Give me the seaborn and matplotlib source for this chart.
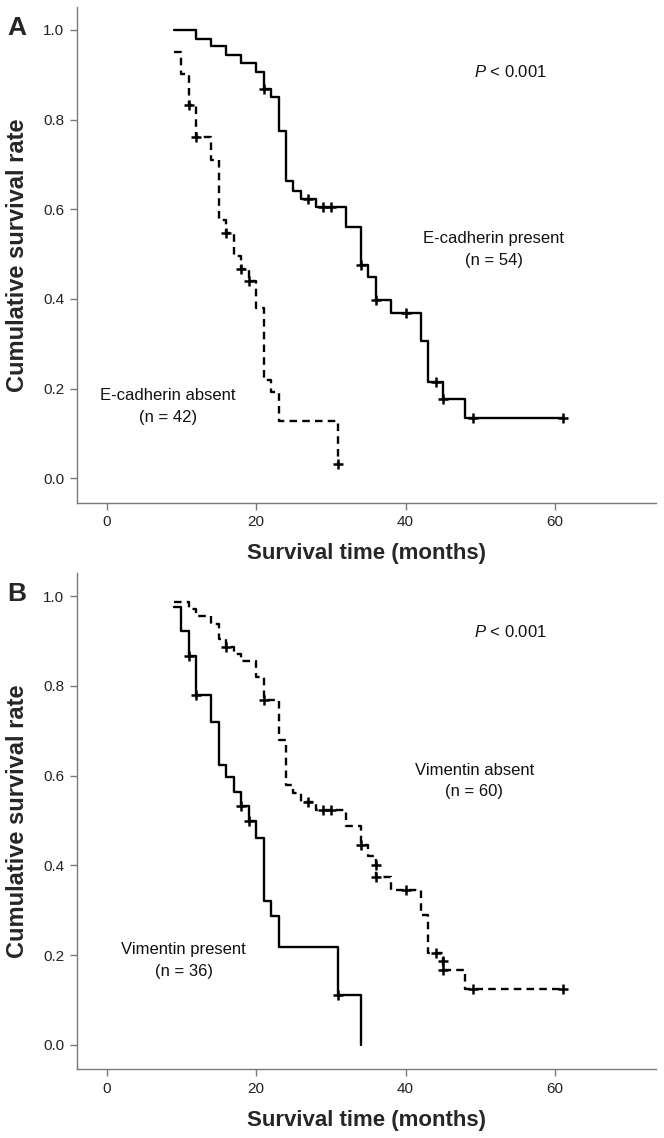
import matplotlib
matplotlib.use("Agg")
import matplotlib.pyplot as plt
import seaborn as sb

# Panel A: E-cadherin
ecad_pres_t = [9, 12, 14, 16, 18, 20, 21, 22, 23, 24, 25, 26, 28, 32, 34, 35, 36, 38, 42, 43, 45, 48, 61]
ecad_pres_s = [1.0, 0.979, 0.964, 0.944, 0.927, 0.907, 0.868, 0.850, 0.775, 0.662, 0.641, 0.622, 0.605,
               0.560, 0.476, 0.448, 0.398, 0.368, 0.307, 0.214, 0.178, 0.135, 0.135]
ecad_pres_cens_t = [21, 27, 29, 30, 34, 36, 40, 44, 45, 49, 61]
ecad_pres_cens_s = [0.868, 0.622, 0.605, 0.605, 0.476, 0.398, 0.368, 0.214, 0.178, 0.135, 0.135]

ecad_abs_t = [9, 10, 11, 12, 14, 15, 16, 17, 18, 19, 20, 21, 22, 23, 31]
ecad_abs_s = [0.951, 0.902, 0.833, 0.760, 0.710, 0.576, 0.548, 0.496, 0.466, 0.440, 0.379, 0.219, 0.193,
              0.128, 0.032]
ecad_abs_cens_t = [11, 12, 16, 18, 19, 31]
ecad_abs_cens_s = [0.833, 0.760, 0.548, 0.466, 0.440, 0.032]

# Panel B: Vimentin
vim_pres_t = [9, 10, 11, 12, 14, 15, 16, 17, 18, 19, 20, 21, 22, 23, 31, 34]
vim_pres_s = [0.975, 0.922, 0.866, 0.779, 0.719, 0.624, 0.596, 0.563, 0.532, 0.499, 0.462, 0.321, 0.288,
              0.217, 0.110, 0.0]
vim_pres_cens_t = [11, 12, 18, 19, 31]
vim_pres_cens_s = [0.866, 0.779, 0.532, 0.499, 0.110]

vim_abs_t = [9, 11, 12, 14, 15, 16, 17, 18, 20, 21, 23, 24, 25, 26, 28, 32, 34, 35, 36, 38, 42, 43, 45, 48, 61]
vim_abs_s = [0.987, 0.972, 0.955, 0.938, 0.905, 0.886, 0.871, 0.855, 0.819, 0.769, 0.680, 0.580, 0.561,
             0.541, 0.524, 0.487, 0.445, 0.420, 0.373, 0.346, 0.290, 0.204, 0.167, 0.125, 0.125]
vim_abs_cens_t = [16, 21, 27, 29, 30, 34, 36, 36, 40, 44, 45, 45, 49, 61]
vim_abs_cens_s = [0.886, 0.769, 0.541, 0.524, 0.524, 0.445, 0.401, 0.373, 0.346, 0.204, 0.186, 0.167,
                  0.125, 0.125]

x_ticks = [0, 20, 40, 60]
y_ticks = [0.0, 0.2, 0.4, 0.6, 0.8, 1.0]

sb.set_style("white")
plt.rcParams["font.family"] = ["Liberation Sans", "DejaVu Sans"]
plt.rcParams["mathtext.fontset"] = "custom"
plt.rcParams["mathtext.it"] = "Liberation Sans:italic"
plt.rcParams["mathtext.rm"] = "Liberation Sans"

GREY = "#7a7a7a"
SOLID = "-"
DASHED = (0, (3.2, 2.2))


def km_curve(ax, t, s, ct, cs, ls):
    sb.lineplot(x=t, y=s, ax=ax, color="black", linewidth=1.7, linestyle=ls,
                drawstyle="steps-post", estimator=None, sort=False)
    sb.scatterplot(x=ct, y=cs, ax=ax, color="black", marker="+", s=55, linewidth=1.8, zorder=5)


def panel(fig, rect, curves, labels, pval_y, letter):
    ax = fig.add_axes(rect)
    for c in curves:
        km_curve(ax, *c)
    ax.set_xlim(-4, 73.5)
    ax.set_ylim(-0.054, 1.051)
    ax.set_xticks(x_ticks)
    ax.set_yticks(y_ticks)
    ax.set_yticklabels([f"{v:.1f}" for v in y_ticks])
    for side in ["top", "right"]:
        ax.spines[side].set_visible(False)
    for side in ["left", "bottom"]:
        ax.spines[side].set_color(GREY)
        ax.spines[side].set_linewidth(1.0)
    ax.tick_params(axis="both", direction="out", length=5, width=1.0, color=GREY,
                   labelsize=11, labelcolor="#222222", left=True, bottom=True, pad=4)
    ax.set_xlabel("Survival time (months)", fontsize=16, fontweight="bold")
    ax.set_ylabel("Cumulative survival rate", fontsize=17, fontweight="bold")
    ax.xaxis.set_label_coords(0.5, -0.082)
    ax.yaxis.set_label_coords(-0.082, 0.5)
    for x, y, txt in labels:
        ax.text(x, y, txt, fontsize=12, ha="center", va="center", linespacing=1.55, color="#111111")
    ax.text(54, pval_y, r"$\it{P}$ < 0.001", fontsize=12, ha="center", va="center", color="#111111")
    fig.text(rect[0] - 0.09, rect[1] + rect[3] - 0.008, letter, fontsize=19, fontweight="bold",
             ha="center", va="top")
    return ax


fig = plt.figure(figsize=(6.64, 11.38), dpi=100)

panel(fig, [0.1155, 0.5583, 0.8725, 0.4356],
      [(ecad_pres_t, ecad_pres_s, ecad_pres_cens_t, ecad_pres_cens_s, SOLID),
       (ecad_abs_t, ecad_abs_s, ecad_abs_cens_t, ecad_abs_cens_s, DASHED)],
      [(51.8, 0.51, "E-cadherin present\n(n = 54)"),
       (8.2, 0.161, "E-cadherin absent\n(n = 42)")],
      0.905, "A")

panel(fig, [0.1155, 0.0606, 0.8725, 0.4356],
      [(vim_pres_t, vim_pres_s, vim_pres_cens_t, vim_pres_cens_s, SOLID),
       (vim_abs_t, vim_abs_s, vim_abs_cens_t, vim_abs_cens_s, DASHED)],
      [(49.2, 0.588, "Vimentin absent\n(n = 60)"),
       (10.3, 0.188, "Vimentin present\n(n = 36)")],
      0.92, "B")

fig.savefig("out.png", dpi=100)
